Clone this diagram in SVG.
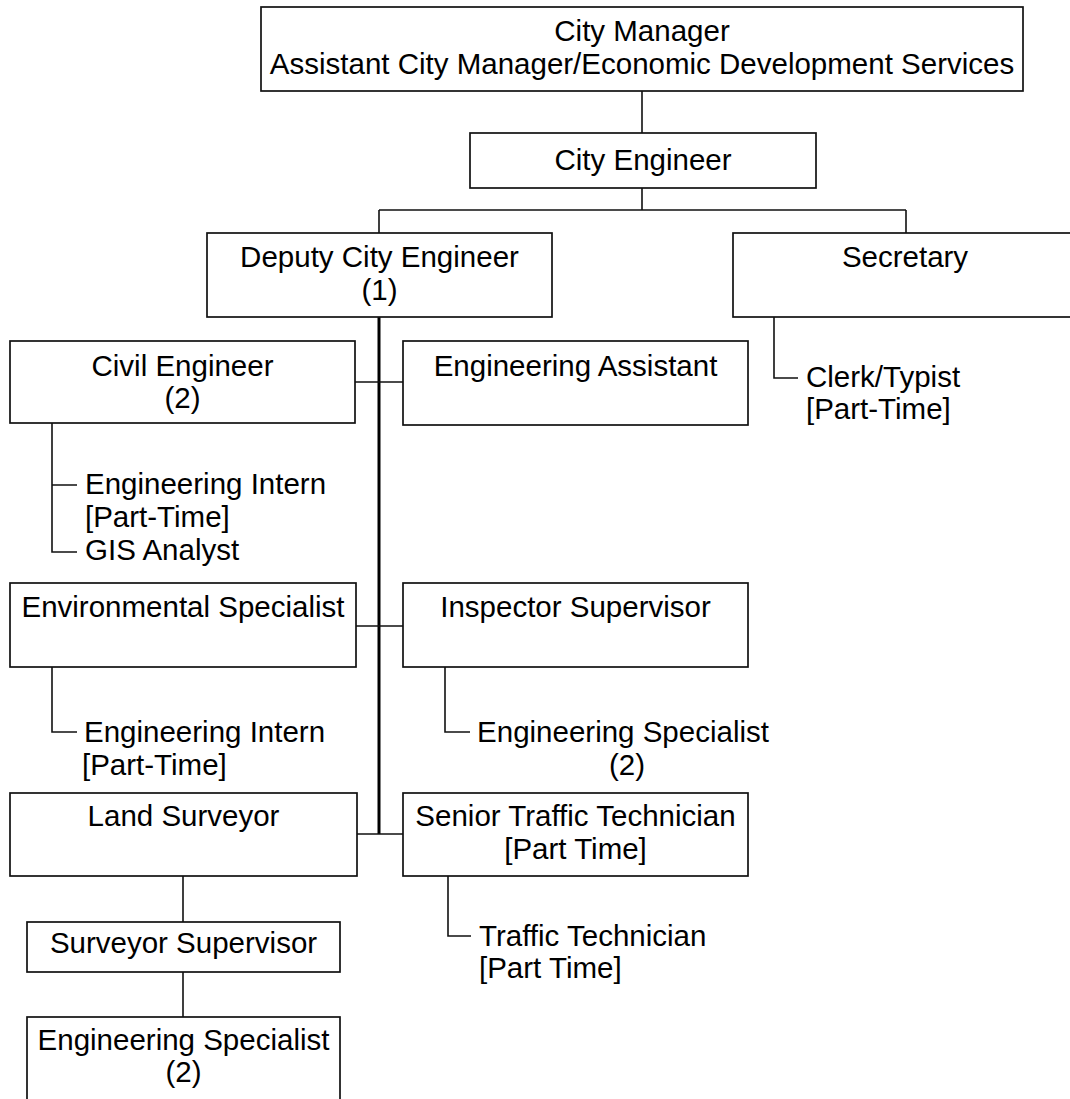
<svg xmlns="http://www.w3.org/2000/svg" width="1070" height="1099" viewBox="0 0 1070 1099">
<style>
.box{fill:#fff;stroke:#111;stroke-width:1.7}
.t{font-family:"Liberation Sans",Arial,sans-serif;font-size:29.5px;fill:#000}
.c{text-anchor:middle}
.ln{fill:none;stroke:#111;stroke-width:1.6}
.sp{fill:none;stroke:#000;stroke-width:3}
</style>
<rect width="1070" height="1099" fill="#fff"/>
<g id="connectors">
<path class="ln" d="M642 91V133M642 188V210M379 210H906M379 210V233M906 210V233"/>
<path class="sp" d="M379 317V834"/>
<path class="ln" d="M355 382H403M356 626H403M357 834H403"/>
<path class="ln" d="M774 317V378H798"/>
<path class="ln" d="M52 423V552H77M52 485H77"/>
<path class="ln" d="M52 667V732H77"/>
<path class="ln" d="M445 667V732H470"/>
<path class="ln" d="M448 876V936H471"/>
<path class="ln" d="M183 876V922M183 972V1017"/>
</g>
<g id="city-manager"><rect class="box" x="261" y="7" width="762" height="84"/><text class="t c" x="642" y="41">City Manager</text><text class="t c" x="642" y="74">Assistant City Manager/Economic Development Services</text></g>
<g id="city-engineer"><rect class="box" x="470" y="133" width="346" height="55"/><text class="t c" x="643" y="170">City Engineer</text></g>
<g id="deputy"><rect class="box" x="207" y="233" width="345" height="84"/><text class="t c" x="379.5" y="267">Deputy City Engineer</text><text class="t c" x="379.5" y="300">(1)</text></g>
<g id="secretary"><rect class="box" x="733" y="233" width="345" height="84"/><text class="t c" x="905" y="267">Secretary</text></g>
<g id="clerk"><text class="t" x="806" y="387">Clerk/Typist</text><text class="t" x="806" y="419">[Part-Time]</text></g>
<g id="civil-engineer"><rect class="box" x="10" y="341" width="345" height="82"/><text class="t c" x="182.5" y="376">Civil Engineer</text><text class="t c" x="182.5" y="408">(2)</text></g>
<g id="engineering-assistant"><rect class="box" x="403" y="341" width="345" height="84"/><text class="t c" x="575.5" y="376">Engineering Assistant</text></g>
<g id="civil-subs"><text class="t" x="85" y="494">Engineering Intern</text><text class="t" x="85" y="527">[Part-Time]</text><text class="t" x="85" y="560">GIS Analyst</text></g>
<g id="environmental-specialist"><rect class="box" x="10" y="583" width="346" height="84"/><text class="t c" x="183" y="617">Environmental Specialist</text></g>
<g id="inspector-supervisor"><rect class="box" x="403" y="583" width="345" height="84"/><text class="t c" x="575.5" y="617">Inspector Supervisor</text></g>
<g id="env-subs"><text class="t" x="84" y="742">Engineering Intern</text><text class="t" x="82" y="775">[Part-Time]</text></g>
<g id="inspector-subs"><text class="t c" x="623" y="742">Engineering Specialist</text><text class="t c" x="627" y="775">(2)</text></g>
<g id="land-surveyor"><rect class="box" x="10" y="793" width="347" height="83"/><text class="t c" x="183.5" y="826">Land Surveyor</text></g>
<g id="senior-traffic"><rect class="box" x="403" y="793" width="345" height="83"/><text class="t c" x="575.5" y="826">Senior Traffic Technician</text><text class="t c" x="575.5" y="859">[Part Time]</text></g>
<g id="traffic-tech"><text class="t" x="479" y="946">Traffic Technician</text><text class="t" x="479" y="978">[Part Time]</text></g>
<g id="surveyor-supervisor"><rect class="box" x="27" y="922" width="313" height="50"/><text class="t c" x="183.5" y="953">Surveyor Supervisor</text></g>
<g id="engineering-specialist"><rect class="box" x="27" y="1017" width="313" height="100"/><text class="t c" x="183.5" y="1050">Engineering Specialist</text><text class="t c" x="183.5" y="1082">(2)</text></g>
</svg>
